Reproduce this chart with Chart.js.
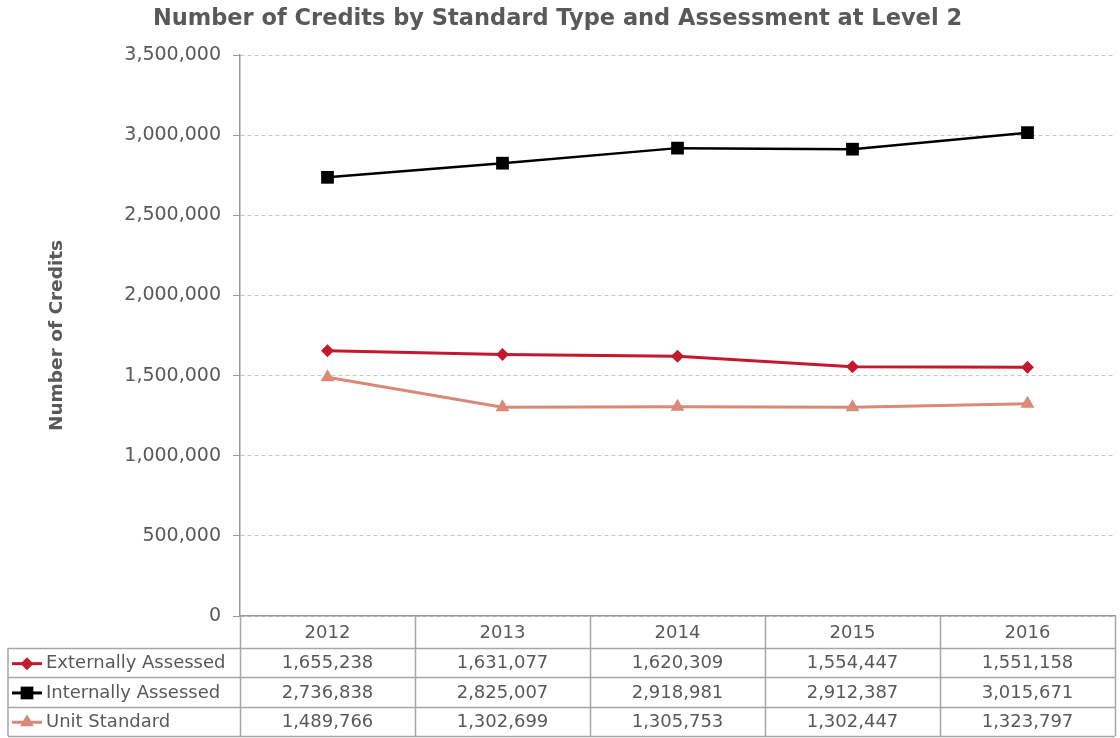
<!DOCTYPE html>
<html>
<head>
<meta charset="utf-8">
<script src="https://cdn.jsdelivr.net/npm/chart.js@4/dist/chart.umd.min.js"></script>
<style>
  html, body { margin: 0; padding: 0; background: #fff; }
  #wrap { width: 1120px; height: 738px; }
</style>
</head>
<body>
<div id="wrap"><canvas id="credits-chart"></canvas></div>
<script>
const years = ['2012', '2013', '2014', '2015', '2016'];
const externallyAssessed = [1655238, 1631077, 1620309, 1554447, 1551158];
const internallyAssessed = [2736838, 2825007, 2918981, 2912387, 3015671];
const unitStandard = [1489766, 1302699, 1305753, 1302447, 1323797];
const yTicks = [0, 500000, 1000000, 1500000, 2000000, 2500000, 3000000, 3500000];

const FONT = '"DejaVu Sans", Verdana, sans-serif';
const TEXT = '#595959';

const series = [
    { label: 'Externally Assessed', data: externallyAssessed, color: '#c2192f', shape: 'rectRot', radius: 6.5 },
    { label: 'Internally Assessed', data: internallyAssessed, color: '#000000', shape: 'rect', radius: 9 },
    { label: 'Unit Standard', data: unitStandard, color: '#da8878', shape: 'triangle', radius: 8 }
];

// legend key markers in the table, same sizes as Chart.js draws them
function drawMarker(ctx, shape, x, y, r, color) {
    ctx.fillStyle = color;
    ctx.beginPath();
    if (shape === 'rect') {
        const s = r * Math.SQRT1_2;
        ctx.rect(x - s, y - s, s * 2, s * 2);
    } else if (shape === 'rectRot') {
        ctx.moveTo(x, y - r); ctx.lineTo(x + r, y); ctx.lineTo(x, y + r); ctx.lineTo(x - r, y);
    } else {
        const w = r * Math.sin(Math.PI / 3);
        ctx.moveTo(x, y - r); ctx.lineTo(x + w, y + r / 2); ctx.lineTo(x - w, y + r / 2);
    }
    ctx.closePath();
    ctx.fill();
}

// data table under the plot, laid out from the x scale
const dataTable = {
    id: 'dataTable',
    afterDraw(chart) {
        const ctx = chart.ctx;
        const x = chart.scales.x;
        const step = x.getPixelForValue(1) - x.getPixelForValue(0);
        const left = x.getPixelForValue(0) - step / 2;
        const right = x.getPixelForValue(years.length - 1) + step / 2;
        const top = chart.chartArea.bottom;
        const rowH = 29.3;
        const headBottom = top + 32;
        const tableLeft = 8;
        const bottom = headBottom + rowH * series.length;

        ctx.save();
        ctx.strokeStyle = '#a6a6a6';
        ctx.lineWidth = 1.5;
        ctx.beginPath();
        for (let i = 0; i <= years.length; i++) {
            const px = Math.min(Math.round(left + step * i) + 0.5, chart.width - 4);
            ctx.moveTo(px, top); ctx.lineTo(px, bottom);
        }
        ctx.moveTo(tableLeft, headBottom); ctx.lineTo(tableLeft, bottom);
        for (let r = 0; r <= series.length; r++) {
            const py = Math.round(headBottom + rowH * r) + 0.5;
            ctx.moveTo(tableLeft, py); ctx.lineTo(right, py);
        }
        ctx.stroke();

        ctx.font = '18px ' + FONT;
        ctx.fillStyle = TEXT;
        ctx.textAlign = 'center';
        ctx.textBaseline = 'middle';
        years.forEach((yr, i) => ctx.fillText(yr, x.getPixelForValue(i), top + 17));

        series.forEach((s, r) => {
            const cy = headBottom + rowH * r + rowH / 2 + 1;
            ctx.strokeStyle = s.color;
            ctx.lineWidth = 3;
            ctx.beginPath();
            ctx.moveTo(12, cy); ctx.lineTo(42, cy);
            ctx.stroke();
            drawMarker(ctx, s.shape, 27, cy, s.shape === 'triangle' ? 8 : s.radius, s.color);
            ctx.fillStyle = TEXT;
            ctx.textAlign = 'left';
            ctx.fillText(s.label, 46, cy);
            ctx.textAlign = 'center';
            s.data.forEach((v, i) => ctx.fillText(v.toLocaleString('en-US'), x.getPixelForValue(i), cy));
        });
        ctx.restore();
    }
};

new Chart(document.querySelector('#credits-chart').getContext('2d'), {
    type: 'line',
    data: {
        labels: years,
        datasets: series.map(s => ({
            label: s.label,
            data: s.data,
            borderColor: s.color,
            backgroundColor: s.color,
            borderWidth: s.color === '#000000' ? 2.5 : 3,
            pointStyle: s.shape,
            pointRadius: s.radius,
            pointHoverRadius: s.radius,
            pointBorderWidth: 0,
            tension: 0
        }))
    },
    options: {
        responsive: true,
        maintainAspectRatio: false,
        animation: false,
        layout: { autoPadding: false, padding: { left: 0, right: 5, top: 0, bottom: 114 } },
        plugins: {
            legend: { display: false },
            tooltip: { enabled: false },
            title: {
                display: true,
                text: 'Number of Credits by Standard Type and Assessment at Level 2',
                color: TEXT,
                font: { family: FONT, size: 22.5, weight: 'bold' },
                padding: { top: 6, bottom: 22 }
            }
        },
        scales: {
            x: {
                offset: true,
                ticks: { display: false },
                grid: { display: false },
                border: { color: '#999', width: 1.5 }
            },
            y: {
                min: 0,
                max: 3500000,
                afterBuildTicks: axis => { axis.ticks = yTicks.map(v => ({ value: v })); },
                afterFit: axis => { axis.width = 240; },
                ticks: {
                    color: TEXT,
                    font: { family: FONT, size: 19 },
                    padding: 12,
                    callback: v => v.toLocaleString('en-US')
                },
                grid: {
                    color: '#c6c6c6',
                    tickLength: 7,
                    tickColor: '#999',
                    tickBorderDash: [],
                    lineWidth: 1
                },
                border: { color: '#999', width: 1.5, dash: [4, 3] },
                title: {
                    display: true,
                    text: 'Number of Credits',
                    color: TEXT,
                    font: { family: FONT, size: 18.5, weight: 'bold' },
                    padding: { top: 46, bottom: 0 }
                }
            }
        }
    },
    plugins: [dataTable]
});
</script>
</body>
</html>
